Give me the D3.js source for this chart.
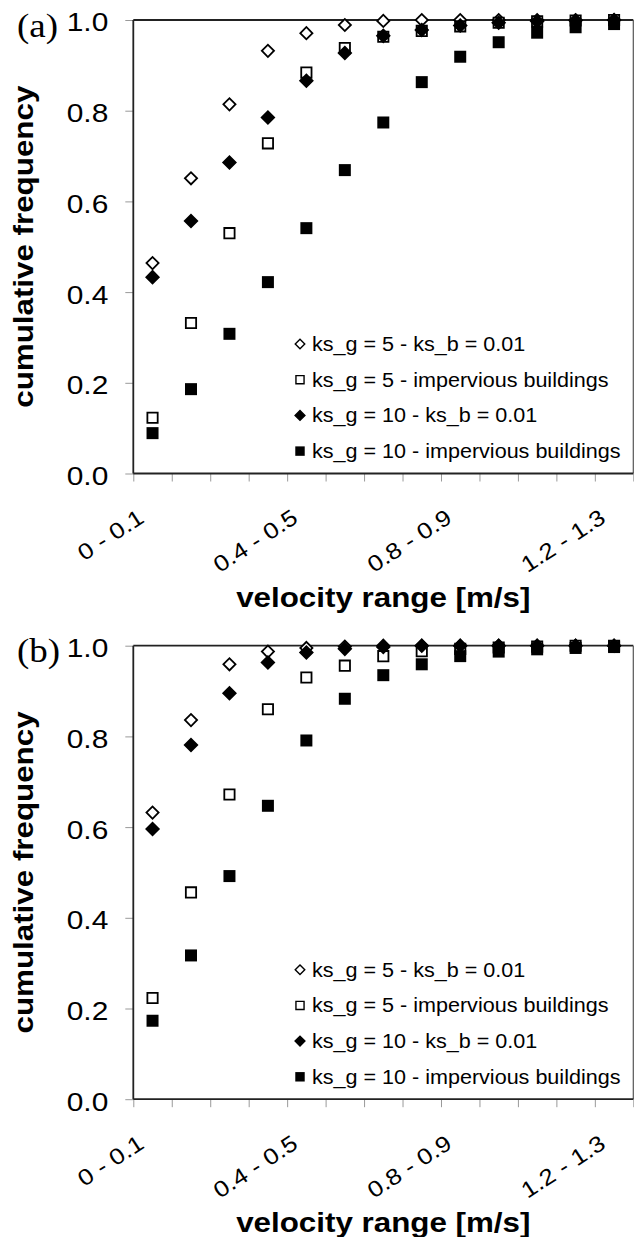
<!DOCTYPE html>
<html>
<head>
<meta charset="utf-8">
<script src="https://cdn.jsdelivr.net/npm/d3@7"></script>
<style>
  body { margin: 0; background: #fff; }
  svg { display: block; }
  text { font-family: "Liberation Sans", Arial, sans-serif; fill: #000; }
</style>
</head>
<body>
<div id="chart"></div>
<script>
// x categories (velocity ranges)
var categories = ["0 - 0.1", "0.1 - 0.2", "0.2 - 0.3", "0.3 - 0.4", "0.4 - 0.5", "0.5 - 0.6", "0.6 - 0.7",
                  "0.7 - 0.8", "0.8 - 0.9", "0.9 - 1.0", "1.0 - 1.1", "1.1 - 1.2", "1.2 - 1.3"];
var labelledCategories = ["0 - 0.1", "0.4 - 0.5", "0.8 - 0.9", "1.2 - 1.3"];
var yTicks = [0, 0.2, 0.4, 0.6, 0.8, 1.0];
var seriesNames = ["ks_g = 5 - ks_b = 0.01", "ks_g = 5 - impervious buildings",
                   "ks_g = 10 - ks_b = 0.01", "ks_g = 10 - impervious buildings"];

// panel (a)
var a_g5_b001 = [0.464, 0.651, 0.814, 0.932, 0.971, 0.989, 0.998, 1.0, 1.0, 1.0, 1.0, 1.0, 1.0];
var a_g5_imp  = [0.123, 0.332, 0.530, 0.728, 0.884, 0.938, 0.963, 0.976, 0.986, 0.994, 0.997, 0.999, 1.0];
var a_g10_b001 = [0.433, 0.557, 0.686, 0.785, 0.866, 0.927, 0.965, 0.978, 0.988, 0.994, 0.997, 0.999, 1.0];
var a_g10_imp = [0.089, 0.186, 0.308, 0.422, 0.541, 0.669, 0.774, 0.863, 0.919, 0.951, 0.972, 0.984, 0.991];

// panel (b)
var b_g5_b001 = [0.632, 0.836, 0.959, 0.987, 0.995, 0.998, 1.0, 1.0, 1.0, 1.0, 1.0, 1.0, 1.0];
var b_g5_imp  = [0.223, 0.456, 0.672, 0.860, 0.930, 0.956, 0.977, 0.988, 0.993, 0.996, 0.998, 1.0, 1.0];
var b_g10_b001 = [0.596, 0.781, 0.895, 0.963, 0.985, 0.993, 0.997, 1.0, 1.0, 1.0, 1.0, 1.0, 1.0];
var b_g10_imp = [0.173, 0.317, 0.492, 0.647, 0.791, 0.883, 0.935, 0.959, 0.977, 0.987, 0.992, 0.995, 0.997];

// layout
var containerWidth = 634,
    containerHeight = 1237,
    left = 133.3,
    width = 500,
    height = 453.5,
    SX = 1.15; // the fonts in the original are wide

var svg = d3.select("#chart")
    .append("svg")
    .attr("width", containerWidth)
    .attr("height", containerHeight);

// marker shapes: open diamond, open square, filled diamond, filled square
var markers = [
    { type: d3.symbolSquare, size: 74, rot: 45, fill: "#fff", stroke: "#000" },
    { type: d3.symbolSquare, size: 106, rot: 0, fill: "#fff", stroke: "#000" },
    { type: d3.symbolSquare, size: 78, rot: 45, fill: "#000", stroke: "#000" },
    { type: d3.symbolSquare, size: 144, rot: 0, fill: "#000", stroke: "none" }
];

function drawPanel(top, label, series) {
    var g = svg.append("g")
        .attr("transform", "translate(" + left + "," + top + ")");

    var x = d3.scaleBand().domain(categories).range([0, width]);
    var xTick = d3.scaleLinear().domain([0, categories.length]).range([0, width]);
    var y = d3.scaleLinear().domain([0, 1]).range([height, 0]);

    // y axis
    var yAxis = g.append("g")
        .call(d3.axisLeft(y).tickValues(yTicks).tickSize(8).tickFormat(d3.format(".1f")));
    yAxis.select(".domain").remove();
    yAxis.selectAll("line").attr("stroke", "#999");
    yAxis.selectAll("text")
        .attr("x", -25 / SX)
        .attr("dy", "0.42em")
        .attr("transform", "scale(" + SX + ",1)")
        .style("font-size", "26px");

    // x tick marks between categories
    var xTicks = g.append("g")
        .attr("transform", "translate(0," + height + ")")
        .call(d3.axisBottom(xTick).tickValues(d3.range(categories.length + 1)).tickSize(8).tickFormat(""));
    xTicks.select(".domain").remove();
    xTicks.selectAll("line").attr("stroke", "#999");

    // x labels
    var xAxis = g.append("g")
        .attr("transform", "translate(0," + height + ")")
        .call(d3.axisBottom(x).tickValues(labelledCategories).tickSize(0));
    xAxis.select(".domain").remove();
    xAxis.selectAll("text")
        .attr("x", 0).attr("y", 0).attr("dy", 0)
        .attr("text-anchor", "end")
        .attr("transform", "translate(-7,48) rotate(-33) scale(" + SX + ",1)")
        .style("font-size", "22.5px");

    // frame
    g.append("line").attr("x1", 0).attr("x2", width).attr("y1", 0).attr("y2", 0)
        .attr("stroke", "#222").attr("stroke-width", 1.8);
    g.append("line").attr("x1", width).attr("x2", width).attr("y1", 0).attr("y2", height)
        .attr("stroke", "#555").attr("stroke-width", 1.2);
    g.append("line").attr("x1", 0).attr("x2", 0).attr("y1", 0).attr("y2", height)
        .attr("stroke", "#222").attr("stroke-width", 1.8);
    g.append("line").attr("x1", 0).attr("x2", width).attr("y1", height).attr("y2", height)
        .attr("stroke", "#222").attr("stroke-width", 1.8);

    // points
    series.forEach(function(values, i) {
        var m = markers[i];
        g.append("g").selectAll("path")
            .data(values)
            .enter().append("path")
            .attr("d", d3.symbol().type(m.type).size(m.size))
            .attr("transform", function(d, j) {
                return "translate(" + (x(categories[j]) + x.bandwidth() / 2) + "," + y(d) + ") rotate(" + m.rot + ")";
            })
            .attr("fill", m.fill)
            .attr("stroke", m.stroke)
            .attr("stroke-width", 1.8);
    });

    // legend
    var legend = g.append("g").attr("transform", "translate(" + (300 - left) + ",324)");
    seriesNames.forEach(function(name, i) {
        var m = markers[i];
        var row = legend.append("g").attr("transform", "translate(0," + (i * 35.7) + ")");
        row.append("path")
            .attr("d", d3.symbol().type(m.type).size(m.size * 0.62))
            .attr("transform", "rotate(" + m.rot + ")")
            .attr("fill", m.fill)
            .attr("stroke", m.stroke)
            .attr("stroke-width", 1.4);
        row.append("text")
            .attr("x", 0).attr("y", 0)
            .attr("dy", "0.36em")
            .attr("transform", "translate(12,0) scale(1.1,1)")
            .style("font-size", "19.6px")
            .text(name);
    });

    // axis titles
    g.append("text")
        .attr("transform", "translate(" + (33 - left) + "," + (height / 2) + ") rotate(-90) scale(1.1,1)")
        .attr("text-anchor", "middle")
        .style("font-size", "28.5px")
        .style("font-weight", "bold")
        .text("cumulative frequency");

    g.append("text")
        .attr("transform", "translate(" + (width / 2) + "," + (height + 133) + ") scale(1.1,1)")
        .attr("text-anchor", "middle")
        .style("font-size", "28.5px")
        .style("font-weight", "bold")
        .text("velocity range [m/s]");

    // panel letter
    svg.append("text")
        .attr("transform", "translate(17," + (top + 16.5) + ") scale(1.12,1)")
        .style("font-family", "'Liberation Serif', 'Times New Roman', serif")
        .style("font-size", "33px")
        .text(label);
}

drawPanel(20, "(a)", [a_g5_b001, a_g5_imp, a_g10_b001, a_g10_imp]);
drawPanel(645.7, "(b)", [b_g5_b001, b_g5_imp, b_g10_b001, b_g10_imp]);
</script>
</body>
</html>
